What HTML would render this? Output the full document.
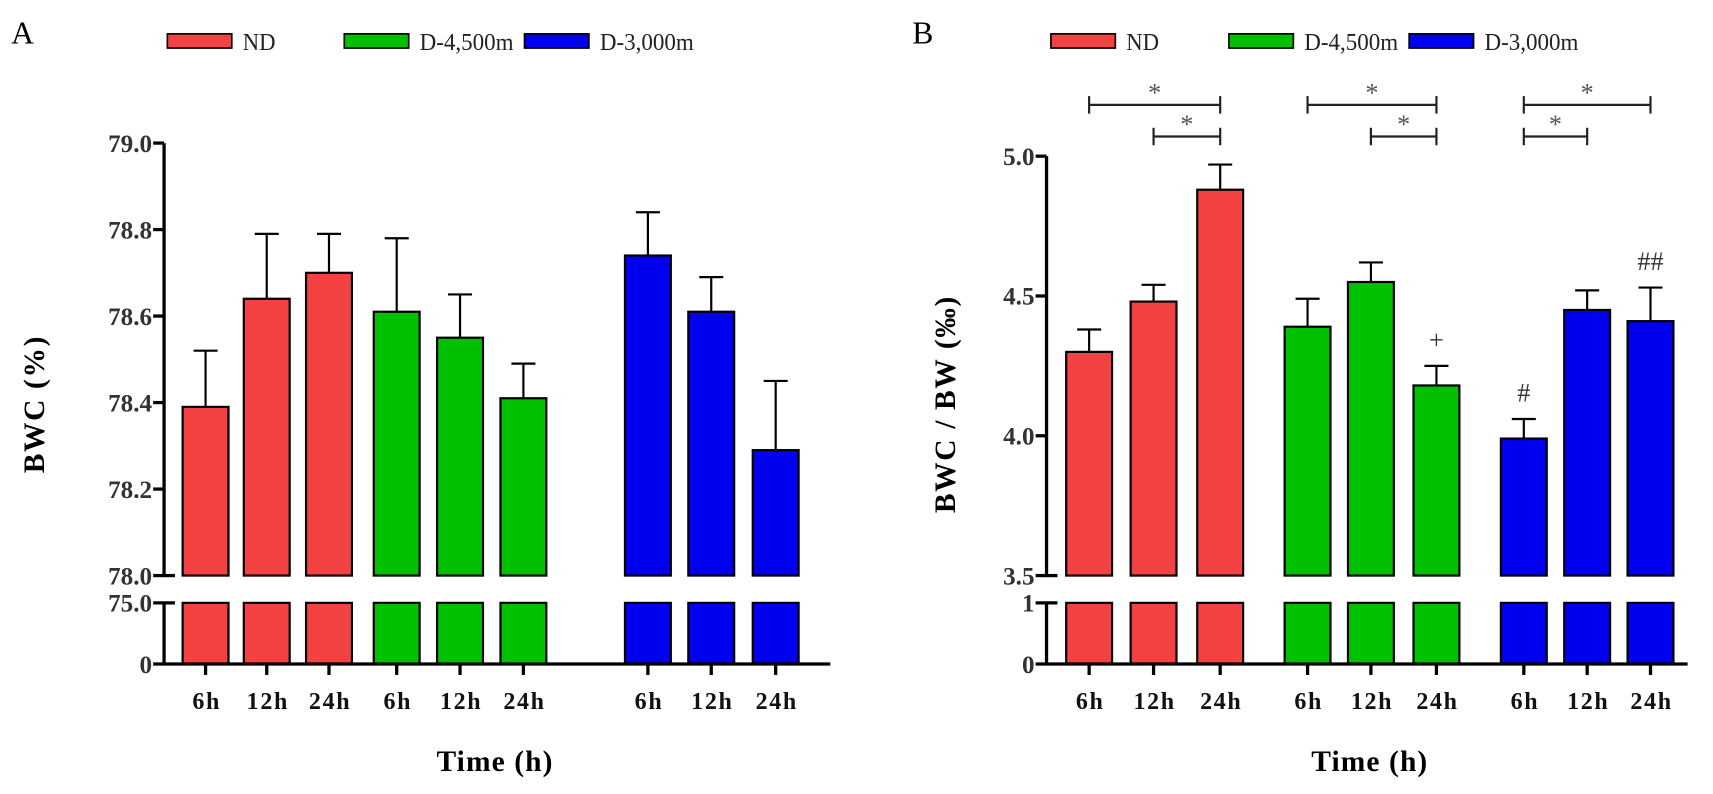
<!DOCTYPE html>
<html><head><meta charset="utf-8"><style>
html,body{margin:0;padding:0;background:#fff;}
svg{display:block;font-family:"Liberation Serif",serif;}
</style></head><body>
<svg id="chart" width="1713" height="794" viewBox="0 0 1568 727" xmlns="http://www.w3.org/2000/svg"></svg>
<script>
const groups = ["ND", "D-4,500m", "D-3,000m"];
const timeLabels = ["6h", "12h", "24h"];
const colors = ["#f44242", "#00c000", "#0000ee"];
const leftMeans = [[78.39, 78.64, 78.70], [78.61, 78.55, 78.41], [78.74, 78.61, 78.29]];
const leftErr = [[0.13, 0.15, 0.09], [0.17, 0.10, 0.08], [0.10, 0.08, 0.16]];
const leftTicks = [78.0, 78.2, 78.4, 78.6, 78.8, 79.0];
const rightMeans = [[4.30, 4.48, 4.88], [4.39, 4.55, 4.18], [3.99, 4.45, 4.41]];
const rightErr = [[0.08, 0.06, 0.09], [0.10, 0.07, 0.07], [0.07, 0.07, 0.12]];
const rightTicks = [3.5, 4.0, 4.5, 5.0];
const rightMarks = [["", "", ""], ["", "", "+"], ["#", "", "##"]];
// brackets: [group, fromBar, toBar, level]
const brackets = [[0,0,2,0],[0,1,2,1],[1,0,2,0],[1,1,2,1],[2,0,2,0],[2,0,1,1]];
const legendTextLen = [30, 86, 86];

const svg = document.getElementById('chart');
const NS = "http://www.w3.org/2000/svg";
function mk(tag, attrs, parent, text){
  const e = document.createElementNS(NS, tag);
  for (const k in attrs) e.setAttribute(k, attrs[k]);
  if (text !== undefined) e.textContent = text;
  (parent || svg).appendChild(e);
  return e;
}

function panel(cfg){
  const g = mk('g', {});
  
  
  const ax = cfg.axisX, brk = 527, lowTop = 552, base = 608;
  const y = v => brk - (v - cfg.min) / (cfg.max - cfg.min) * (brk - cfg.topY);
  const L = mk('text', {x: cfg.letterX, y: 40, 'font-size': 29}, g, cfg.letter);
  
  
  groups.forEach((n, i) => {
    const lg = mk('g', {}, g);
    
    
    const lx = cfg.legendX[i];
    mk('rect', {x: lx, y: 31, width: 59, height: 13, fill: colors[i], stroke: '#000', 'stroke-width': 1.5}, lg);
    mk('text', {x: lx + 69, y: 46, 'font-size': 22, fill: '#222', textLength: legendTextLen[i], lengthAdjust: 'spacingAndGlyphs'}, lg, n);
  });
  for (let gi = 0; gi < 3; gi++) {
    for (let ti = 0; ti < 3; ti++) {
      const x0 = cfg.barX[gi][ti], w = 42, cx = x0 + w / 2;
      const m = cfg.means[gi][ti], e = cfg.err[gi][ti];
      const bg = mk('g', {}, g);
      
      
      const yt = y(m + e);
      mk('line', {x1: cx, x2: cx, y1: y(m), y2: yt, stroke: '#000', 'stroke-width': 2}, bg);
      mk('line', {x1: cx - 11, x2: cx + 11, y1: yt, y2: yt, stroke: '#000', 'stroke-width': 2}, bg);
      mk('rect', {x: x0, y: y(m), width: w, height: brk - y(m), fill: colors[gi], stroke: '#000', 'stroke-width': 2}, bg);
      mk('rect', {x: x0, y: lowTop, width: w, height: base - lowTop, fill: colors[gi], stroke: '#000', 'stroke-width': 2}, bg);
      if (cfg.marks && cfg.marks[gi][ti]) {
        const t = mk('text', {x: cx, y: yt - 16, 'font-size': 24, 'text-anchor': 'middle', fill: '#333'}, bg, cfg.marks[gi][ti]);
        
        
      }
      mk('line', {x1: cx, x2: cx, y1: base, y2: base + 10, stroke: '#000', 'stroke-width': 3}, g);
      const tl = mk('text', {x: cx + 1, y: 649, 'font-size': 22, 'font-weight': 'bold', 'letter-spacing': 1.5, 'text-anchor': 'middle', fill: '#111'}, g, timeLabels[ti]);
      
      
    }
  }
  const axg = mk('g', {stroke: '#000', 'stroke-width': 3, fill: 'none'}, g);
  
  
  mk('line', {x1: ax, x2: ax, y1: y(cfg.max), y2: brk}, axg);
  mk('line', {x1: ax, x2: ax + 10, y1: brk, y2: brk}, axg);
  mk('line', {x1: ax, x2: ax, y1: lowTop, y2: base}, axg);
  mk('line', {x1: ax - 10, x2: ax + 10, y1: lowTop, y2: lowTop}, axg);
  mk('line', {x1: ax - 10, x2: cfg.axisEnd, y1: base, y2: base}, axg);
  cfg.ticks.forEach(t => {
    mk('line', {x1: ax - 10, x2: ax, y1: y(t), y2: y(t)}, axg);
    const tt = mk('text', {x: ax - 11, y: y(t) + 8, 'font-size': 23, 'font-weight': 'bold', 'text-anchor': 'end', fill: '#333', stroke: 'none'}, g, t.toFixed(1));
    
    
  });
  [[cfg.lowLabel, lowTop], ['0', base]].forEach(p => {
    const tt = mk('text', {x: ax - 11, y: p[1] + 8, 'font-size': 23, 'font-weight': 'bold', 'text-anchor': 'end', fill: '#333'}, g, p[0]);
    
    
  });
  const yt = mk('text', {x: 0, y: 0, 'font-size': 27, 'font-weight': 'bold', 'letter-spacing': 1.5, 'text-anchor': 'middle', transform: 'translate(' + cfg.titleX + ',370) rotate(-90)'}, g, cfg.title);
  
  
  const xt = mk('text', {x: cfg.xTitleX, y: 706, 'font-size': 27, 'font-weight': 'bold', 'letter-spacing': 1, 'text-anchor': 'middle'}, g, 'Time (h)');
  
  
  if (cfg.brackets) {
    cfg.brackets.forEach(b => {
      const bx1 = cfg.barX[b[0]][b[1]] + 21, bx2 = cfg.barX[b[0]][b[2]] + 21;
      const by = b[3] === 0 ? 96 : 125;
      const bg = mk('g', {stroke: '#222', 'stroke-width': 2}, g);
      
      
      mk('line', {x1: bx1, x2: bx2, y1: by, y2: by}, bg);
      mk('line', {x1: bx1, x2: bx1, y1: by - 8, y2: by + 8}, bg);
      mk('line', {x1: bx2, x2: bx2, y1: by - 8, y2: by + 8}, bg);
      mk('text', {x: (bx1 + bx2) / 2, y: by - 3, 'font-size': 24, 'text-anchor': 'middle', fill: '#555', stroke: 'none'}, bg, '*');
    });
  }
}

panel({name: 'panel-a', letter: 'A', letterX: 10, legendX: [153, 315, 480], axisX: 150, axisEnd: 760,
  min: 78.0, max: 79.0, topY: 131, ticks: leftTicks, lowLabel: '75.0', means: leftMeans, err: leftErr,
  barX: [[167, 223, 280], [342, 400, 458], [572, 630, 689]], title: 'BWC (%)', titleX: 40, xTitleX: 453});
panel({name: 'panel-b', letter: 'B', letterX: 835, legendX: [962, 1125, 1290], axisX: 958, axisEnd: 1545,
  min: 3.5, max: 5.0, topY: 143, ticks: rightTicks, lowLabel: '1', means: rightMeans, err: rightErr, marks: rightMarks,
  barX: [[976, 1035, 1096], [1176, 1234, 1294], [1374, 1432, 1490]], title: 'BWC / BW (‰)', titleX: 874, xTitleX: 1254,
  brackets: brackets});
</script>
</body></html>
